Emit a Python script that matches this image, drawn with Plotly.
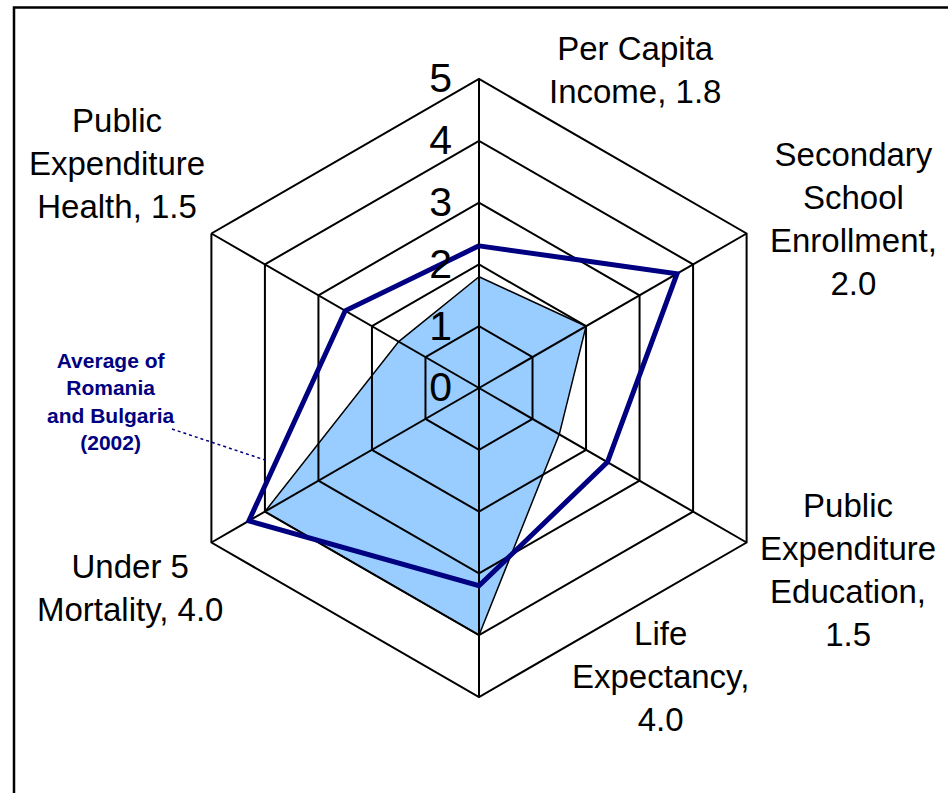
import plotly.graph_objects as go

categories = ["Per Capita Income", "Secondary School Enrollment", "Public Expenditure Education",
              "Life Expectancy", "Under 5 Mortality", "Public Expenditure Health"]
country_values = [1.8, 2.0, 1.5, 4.0, 4.0, 1.5]
avg_ro_bg_values = [2.3, 3.7, 2.4, 3.2, 4.3, 2.5]
radial_ticks = [0, 1, 2, 3, 4, 5]
label_texts = ["Per Capita<br>Income, 1.8", "Secondary<br>School<br>Enrollment,<br>2.0",
               "Public<br>Expenditure<br>Education,<br>1.5", "Life<br>Expectancy,<br>4.0",
               "Under 5<br>Mortality, 4.0", "Public<br>Expenditure<br>Health, 1.5"]
series_note = "Average of<br>Romania<br>and Bulgaria<br>(2002)"

W, H = 948, 793
FONT = "Liberation Sans, Arial, sans-serif"

theta_closed = categories + categories[:1]

fig = go.Figure()
fig.add_trace(go.Scatterpolar(
    r=country_values + country_values[:1], theta=theta_closed, subplot="polar",
    mode="lines", fill="toself", fillcolor="#99CCFF",
    line=dict(color="black", width=1.5), showlegend=False, name="Country"))
fig.add_trace(go.Scatterpolar(
    r=avg_ro_bg_values + avg_ro_bg_values[:1], theta=theta_closed, subplot="polar2",
    mode="lines", line=dict(color="#000080", width=5), showlegend=False,
    name="Average of Romania and Bulgaria (2002)"))

cx, cy, R = 479, 388, 309
dom_x = [(cx - R) / W, (cx + R) / W]
dom_y = [(H - (cy + R)) / H, (H - (cy - R)) / H]

common_ang = dict(type="category", categoryarray=categories, categoryorder="array",
                  rotation=90, direction="clockwise")
fig.update_layout(
    width=W, height=H, autosize=False,
    margin=dict(l=0, r=0, t=0, b=0),
    paper_bgcolor="white",
    polar=dict(
        domain=dict(x=dom_x, y=dom_y), gridshape="linear", bgcolor="white",
        radialaxis=dict(range=[0, 5], showgrid=False, showline=False, showticklabels=False, ticks=""),
        angularaxis=dict(**common_ang, showgrid=False, showline=False, showticklabels=False, ticks=""),
    ),
    polar2=dict(
        domain=dict(x=dom_x, y=dom_y), gridshape="linear", bgcolor="rgba(0,0,0,0)",
        radialaxis=dict(range=[0, 5], tickvals=radial_ticks, showgrid=True, gridcolor="black",
                        gridwidth=2, showline=False, ticks="outside", ticklen=12,
                        tickcolor="rgba(0,0,0,0)", angle=90, tickangle=90,
                        side="counterclockwise",
                        tickfont=dict(family=FONT, size=41, color="black")),
        angularaxis=dict(**common_ang, showgrid=True, gridcolor="black", gridwidth=2,
                         showline=True, linecolor="black", linewidth=2,
                         showticklabels=False, ticks=""),
    ),
)

label_pos = [(635, 70), (853, 219), (848, 570), (660, 676), (130, 588), (117, 163)]
for txt, (x, y) in zip(label_texts, label_pos):
    fig.add_annotation(x=x / W, y=1 - y / H, xref="paper", yref="paper", text=txt,
                       showarrow=False, xanchor="center", yanchor="middle", align="center",
                       font=dict(family=FONT, size=33, color="black"))

fig.add_annotation(x=111 / W, y=1 - 401 / H, xref="paper", yref="paper",
                   text="<b>" + series_note.replace("<br>", "</b><br><b>") + "</b>",
                   showarrow=False, xanchor="center", yanchor="middle", align="center",
                   font=dict(family=FONT, size=21, color="#000080"))
fig.add_shape(type="line", xref="paper", yref="paper", x0=172 / W, y0=1 - 429 / H,
              x1=268 / W, y1=1 - 461 / H, line=dict(color="#000080", width=1.5, dash="dot"))

fig.add_shape(type="rect", xref="paper", yref="paper", x0=14 / W, y0=-0.05, x1=1.05,
              y1=1 - 7.5 / H, line=dict(color="black", width=2.5))

fig.write_html("out.html", config={"displayModeBar": False},
               post_script="document.body.style.margin='0';document.body.style.overflow='hidden';")
